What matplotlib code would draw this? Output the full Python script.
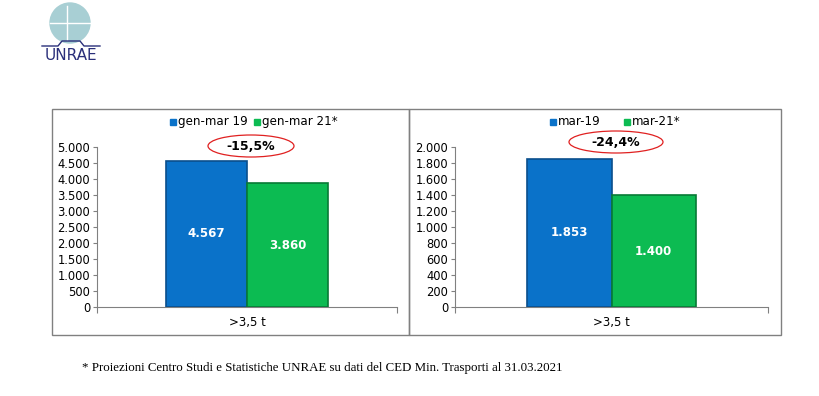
import matplotlib.pyplot as plt
from matplotlib.patches import Ellipse, Rectangle
from matplotlib.ticker import FuncFormatter

W, H = 820, 396

category = [">3,5 t"]
left_series = ["gen-mar 19", "gen-mar 21*"]
left_values = [4567, 3860]
left_change = "-15,5%"
right_series = ["mar-19", "mar-21*"]
right_values = [1853, 1400]
right_change = "-24,4%"
footnote = "* Proiezioni Centro Studi e Statistiche UNRAE su dati del CED Min. Trasporti al 31.03.2021"

colors = ["#0a72c9", "#0cbb52"]
edges = ["#0b4f8c", "#087a36"]

plt.rcParams['font.family'] = ['DejaVu Sans']


def px(x0, y0, x1, y1):
    # pixel box (top-left origin) -> figure fraction rect
    return [x0 / W, 1 - y1 / H, (x1 - x0) / W, (y1 - y0) / H]


def thousands(v, _):
    return f"{int(v):,}".replace(",", ".")


fig = plt.figure(figsize=(W / 100, H / 100), dpi=100)
fig.patch.set_facecolor("white")

# panel frames
fig.add_artist(Rectangle((52 / W, 1 - 335 / H), (409 - 52) / W, (335 - 109) / H,
                         transform=fig.transFigure, fill=False, ec="#808080", lw=1))
fig.add_artist(Rectangle((409 / W, 1 - 335 / H), (781 - 409) / W, (335 - 109) / H,
                         transform=fig.transFigure, fill=False, ec="#808080", lw=1))


def panel(rect, values, names, ymax, step, change, ell, leg_x):
    ax = fig.add_axes(rect)
    width = 0.27
    offs = [-0.135, 0.135]
    for i in range(2):
        ax.bar(offs[i], values[i], width=width, color=colors[i],
               edgecolor=edges[i], linewidth=1.2, zorder=3)
        ax.text(offs[i], values[i] / 2, thousands(values[i], None),
                ha="center", va="center", color="white", fontsize=8.5,
                fontweight="bold", zorder=4)
    ax.set_xlim(-0.5, 0.5)
    ax.set_ylim(0, ymax)
    ax.set_yticks(range(0, ymax + 1, step))
    ax.yaxis.set_major_formatter(FuncFormatter(thousands))
    ax.set_xticks([-0.5, 0.5])
    ax.set_xticklabels([])
    ax.tick_params(axis="y", length=3, labelsize=8.3, pad=2, color="#808080")
    ax.tick_params(axis="x", length=4, color="#808080", direction="out")
    ax.text(0.5, -0.095, category[0], transform=ax.transAxes, ha="center",
            va="center", fontsize=8.5)
    for s in ["top", "right"]:
        ax.spines[s].set_visible(False)
    for s in ["left", "bottom"]:
        ax.spines[s].set_color("#808080")
    ax.set_facecolor("none")

    # legend
    for i in range(2):
        fig.add_artist(Rectangle((leg_x[i] / W, 1 - 125 / H), 6 / W, 6 / H,
                                 transform=fig.transFigure, color=colors[i]))
        fig.text((leg_x[i] + 8) / W, 1 - 121.5 / H, names[i], fontsize=8.6,
                 va="center", ha="left")

    # change ellipse
    cx, cy, ew, eh = ell
    fig.add_artist(Ellipse((cx / W, 1 - cy / H), ew / W, eh / H,
                           transform=fig.transFigure, fill=False,
                           ec="#e02020", lw=0.9))
    fig.text(cx / W, 1 - (cy + 0.5) / H, change, ha="center", va="center",
             fontsize=9, fontweight="bold")
    return ax


panel(px(97, 147, 397, 307), left_values, left_series, 5000, 500,
      left_change, (251, 146, 86, 22), [170, 254])
panel(px(455, 147, 768, 307), right_values, right_series, 2000, 200,
      right_change, (616, 142, 94, 22), [550, 624])

fig.text(82 / W, 1 - 368 / H, footnote, fontsize=9.3,
         family=["Liberation Serif"], va="center", ha="left")

# logo
fig.add_artist(Ellipse((70 / W, 1 - 23 / H), 40 / W, 40 / H,
                       transform=fig.transFigure, color="#a8cfd4"))
fig.add_artist(plt.Line2D([50 / W, 90 / W], [1 - 23 / H, 1 - 23 / H],
                          transform=fig.transFigure, color="white", lw=1))
fig.add_artist(plt.Line2D([67 / W, 67 / W], [1 - 6 / H, 1 - 40 / H],
                          transform=fig.transFigure, color="white", lw=1))
fig.add_artist(plt.Line2D([42 / W, 58 / W, 62 / W, 80 / W, 84 / W, 100 / W],
                          [1 - 46 / H, 1 - 46 / H, 1 - 41 / H, 1 - 41 / H,
                           1 - 46 / H, 1 - 46 / H],
                          transform=fig.transFigure, color="#2a2f7a", lw=1))
fig.text(71 / W, 1 - 56 / H, "UNRAE", fontsize=11, color="#2a2f7a",
         ha="center", va="center")

fig.savefig("out.png", dpi=100)
